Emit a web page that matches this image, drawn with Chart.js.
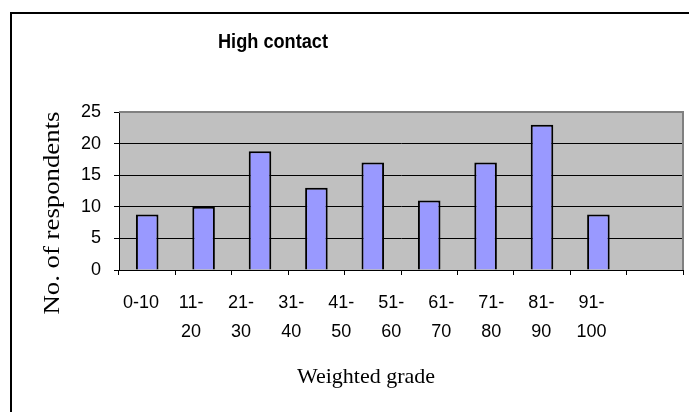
<!DOCTYPE html>
<html>
<head>
<meta charset="utf-8">
<script src="https://cdn.jsdelivr.net/npm/chart.js@4/dist/chart.umd.min.js"></script>
<style>
  html, body { margin:0; padding:0; background:#fff; overflow:hidden; }
  #c { display:block; }
</style>
</head>
<body>
<canvas id="c" width="689" height="412"></canvas>
<script>
// data
const grades = ['0-10','11-20','21-30','31-40','41-50','51-60','61-70','71-80','81-90','91-100'];
const gradeLabels = ['0-10',['11-','20'],['21-','30'],['31-','40'],['41-','50'],['51-','60'],['61-','70'],['71-','80'],['81-','90'],['91-','100']];
const respondents = [8.8, 10, 18.8, 13, 17, 11, 17, 23, 8.8, 0];
const yTicks = [0, 5, 10, 15, 20, 25];

const chartTitle = 'High contact';
const xTitle = 'Weighted grade';
const yTitle = 'No. of respondents';

const ctx = document.getElementById('c').getContext('2d');

// grey plot background, grey top/right border, outer frame and titles
const plotBg = {
  id: 'plotBg',
  beforeDraw(chart){
    const a = chart.chartArea, c = chart.ctx;
    c.save();
    c.fillStyle = '#c0c0c0';
    c.fillRect(a.left, a.top, a.right - a.left, a.bottom - a.top);
    // outer frame, only left and top show in the crop
    c.strokeStyle = '#000';
    c.lineWidth = 2;
    c.beginPath();
    c.moveTo(11, chart.height);
    c.lineTo(11, 13);
    c.lineTo(chart.width, 13);
    c.stroke();
    c.restore();
  },
  afterDraw(chart){
    const a = chart.chartArea, c = chart.ctx;
    c.save();
    c.strokeStyle = '#808080';
    c.lineWidth = 2;
    c.beginPath();
    c.moveTo(a.left, a.top);
    c.lineTo(a.right, a.top);
    c.lineTo(a.right, a.bottom);
    c.stroke();

    c.fillStyle = '#000';
    c.textAlign = 'center';
    c.textBaseline = 'alphabetic';
    c.save();
    c.font = 'bold 20px Arial, "Liberation Sans"';
    const tw = c.measureText(chartTitle).width;
    c.translate(273, 48);
    c.scale(110 / tw, 1);
    c.fillText(chartTitle, 0, 0);
    c.restore();

    c.font = '22px "Times New Roman", "Liberation Serif"';
    c.fillText(xTitle, 366, 383);

    c.font = '24px "Times New Roman", "Liberation Serif"';
    const w = c.measureText(yTitle).width;
    c.translate(53, 213);
    c.rotate(-Math.PI / 2);
    c.scale(203 / w, 1);
    c.textBaseline = 'middle';
    c.fillText(yTitle, 0, 0);
    c.restore();
  }
};

new Chart(ctx, {
  type: 'bar',
  data: {
    labels: grades,
    datasets: [{
      data: respondents,
      backgroundColor: '#9999ff',
      borderColor: '#000',
      borderWidth: 2,
      barPercentage: 0.4,
      categoryPercentage: 1
    }]
  },
  options: {
    responsive: false,
    animation: false,
    layout: { padding: { top: 112, right: 6, left: 0, bottom: 0 } },
    plugins: { legend: { display: false }, title: { display: false }, tooltip: { enabled: false } },
    scales: {
      x: {
        weight: 0,
        ticks: { display: false },
        grid: { drawOnChartArea: false, color: '#000', tickLength: 5, offset: true },
        border: { color: '#000', width: 1 },
        afterFit: s => { s.height = 6; }
      },
      xl: {
        type: 'linear',
        position: 'bottom',
        weight: 1,
        offset: false,
        min: -0.44,
        max: 10.83,
        grid: { display: false, offset: false },
        border: { display: false },
        afterBuildTicks: s => { s.ticks = gradeLabels.map((_, i) => ({ value: i })); },
        ticks: {
          autoSkip: false,
          maxRotation: 0,
          padding: 5,
          color: '#000',
          font: { family: 'Arial, "Liberation Sans"', size: 18, lineHeight: 1.6 },
          callback: v => gradeLabels[v]
        },
        afterFit: s => { s.height = 136; }
      },
      y: {
        min: 0,
        max: 25,
        afterBuildTicks: s => { s.ticks = yTicks.map(v => ({ value: v })); },
        ticks: {
          padding: 13,
          color: '#000',
          font: { family: 'Arial, "Liberation Sans"', size: 18 }
        },
        grid: {
          color: c => c.tick && c.tick.value === 25 ? '#808080' : '#000',
          tickColor: '#000',
          tickLength: 5,
          lineWidth: 1
        },
        border: { color: '#000', width: 1 },
        afterFit: s => { s.width = 119; }
      }
    }
  },
  plugins: [plotBg]
});
</script>
</body>
</html>
